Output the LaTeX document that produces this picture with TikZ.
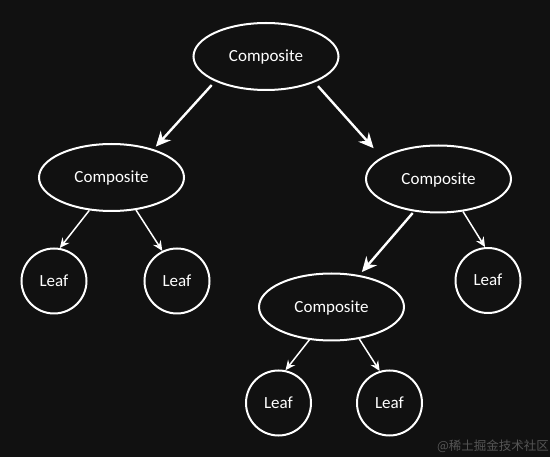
\documentclass[tikz,border=0pt]{standalone}
\usepackage{fontspec}
\setmainfont{Carlito}
\newfontfamily\cjkfont{Noto Sans CJK SC}
\usetikzlibrary{shapes.geometric,arrows.meta}
\definecolor{bgc}{HTML}{111111}
\definecolor{wmc}{HTML}{555555}
\tikzset{
  comp/.style={ellipse, draw=white, line width=2pt, minimum width=145pt, minimum height=67pt, inner sep=0pt, text=white, text height=11pt, text depth=0pt, font=\fontsize{17pt}{19pt}\selectfont},
  leafnode/.style={circle, draw=white, line width=2pt, minimum size=65pt, inner sep=0pt, text=white, text height=11pt, text depth=0pt, font=\fontsize{17pt}{19pt}\selectfont},
  bigarr/.style={draw=white, line width=2.4pt, -{Stealth[length=15pt,width=14pt,inset=5pt]}},
  smallarr/.style={draw=white, line width=1.5pt, -{Stealth[length=10pt,width=9pt,inset=3.5pt]}},
  wmark/.style={text=wmc, font=\cjkfont\fontsize{12.5pt}{14pt}\selectfont, inner sep=0pt}
}
\begin{document}
\begin{tikzpicture}[x=1pt,y=-1pt]
\useasboundingbox[fill=bgc] (0,0) rectangle (550,457);
\node[comp] (top) at (266,56.5) {Composite};
\node[comp] (L) at (111.5,177.5) {Composite};
\node[comp] (R) at (438.5,179) {Composite};
\node[leafnode] (LL) at (54,281) {Leaf};
\node[leafnode] (LR) at (177,281) {Leaf};
\node[leafnode] (RL) at (488,280.5) {Leaf};
\node[comp] (B) at (331.5,307) {Composite};
\node[leafnode] (BL) at (278.5,403) {Leaf};
\node[leafnode] (BR) at (389.5,403) {Leaf};
\node[wmark] (wm) at (493,446) {@稀土掘金技术社区};
\draw[bigarr, shorten <=5pt, shorten >=3.5pt] (top.206) -- (L.34);
\draw[bigarr, shorten <=5pt, shorten >=12pt] (top.332) -- (R.159);
\draw[bigarr, shorten <=2pt, shorten >=4pt] (R.233) -- (B.49);
\draw[smallarr] (R.307) -- (RL.95);
\draw[smallarr] (L.236) -- (LL.80);
\draw[smallarr] (L.307) -- (LR.116);
\draw[smallarr] (B.236) -- (BL.78);
\draw[smallarr] (B.311) -- (BR.107);
\end{tikzpicture}
\end{document}
